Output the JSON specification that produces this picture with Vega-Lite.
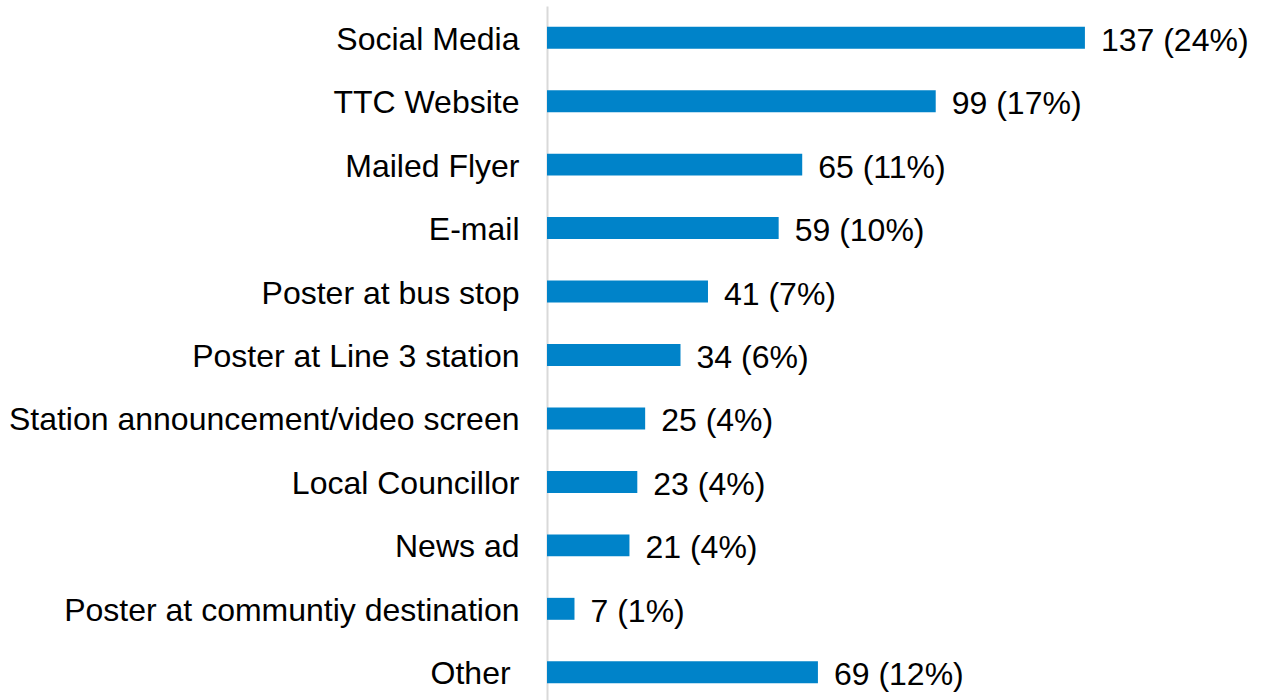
{
  "$schema": "https://vega.github.io/schema/vega-lite/v6.json",
  "autosize": "none",
  "padding": {"left": 547, "top": 6, "right": 0, "bottom": 0},
  "width": 715,
  "height": 698,
  "background": "white",
  "config": {"view": {"stroke": null}, "font": "Liberation Sans"},
  "data": {"values": [
    {"source": "Social Media", "count": 137, "label": "137 (24%)"},
    {"source": "TTC Website", "count": 99, "label": "99 (17%)"},
    {"source": "Mailed Flyer", "count": 65, "label": "65 (11%)"},
    {"source": "E-mail", "count": 59, "label": "59 (10%)"},
    {"source": "Poster at bus stop", "count": 41, "label": "41 (7%)"},
    {"source": "Poster at Line 3 station", "count": 34, "label": "34 (6%)"},
    {"source": "Station announcement/video screen", "count": 25, "label": "25 (4%)"},
    {"source": "Local Councillor", "count": 23, "label": "23 (4%)"},
    {"source": "News ad", "count": 21, "label": "21 (4%)"},
    {"source": "Poster at communtiy destination", "count": 7, "label": "7 (1%)"},
    {"source": "Other\u00a0\u200b", "count": 69, "label": "69 (12%)"}
  ]},
  "encoding": {
    "y": {
      "field": "source", "type": "nominal", "sort": null,
      "scale": {"paddingInner": 0.654, "paddingOuter": 0.327},
      "axis": {
        "title": null, "ticks": false, "tickSize": 0, "labelPadding": 28, "labelOffset": 2,
        "labelFont": "Liberation Sans", "labelFontSize": 32, "labelColor": "#000000",
        "labelLimit": 0, "domainColor": "#d9d9d9", "domainWidth": 2
      }
    },
    "x": {
      "field": "count", "type": "quantitative",
      "scale": {"domain": [0, 182.1], "nice": false},
      "axis": null
    }
  },
  "layer": [
    {"mark": {"type": "bar", "color": "#0083c9"}},
    {
      "mark": {"type": "text", "align": "left", "baseline": "middle", "dx": 16, "dy": 3, "font": "Liberation Sans", "fontSize": 32, "color": "#000000"},
      "encoding": {"text": {"field": "label"}}
    }
  ]
}
